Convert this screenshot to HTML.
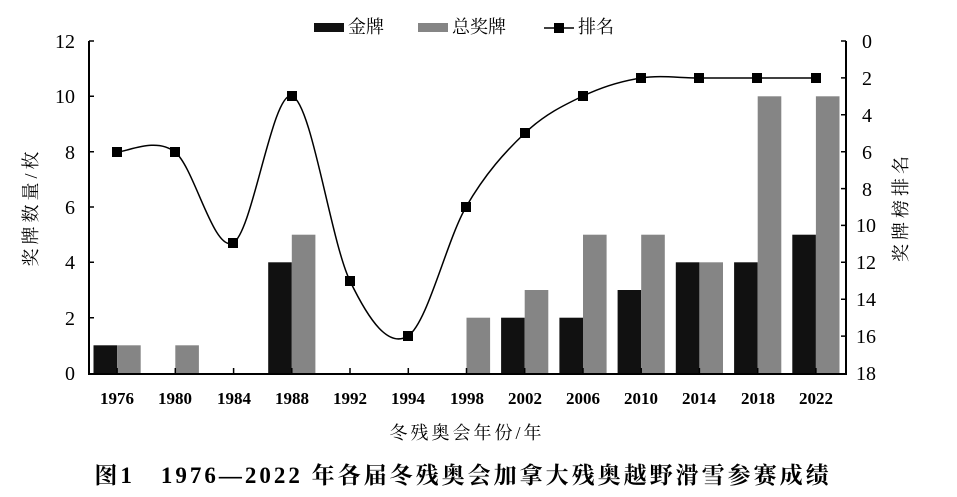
<!DOCTYPE html>
<html><head><meta charset="utf-8"><style>
body{margin:0;background:#fff;width:957px;height:497px;overflow:hidden}
svg{display:block}
.n{font-family:"Liberation Serif",serif;font-size:20px}
.b{font-family:"Liberation Serif",serif;font-size:17px;font-weight:bold}
.c{font-family:"Liberation Serif","Noto Serif CJK SC",serif;font-size:18px}
</style></head><body>
<svg width="957" height="497" xmlns="http://www.w3.org/2000/svg">
<g fill="#111">
<rect x="93.5" y="345.3" width="23.6" height="27.7"/>
<rect x="268.2" y="262.3" width="23.6" height="110.7"/>
<rect x="501.1" y="317.7" width="23.6" height="55.3"/>
<rect x="559.4" y="317.7" width="23.6" height="55.3"/>
<rect x="617.6" y="290" width="23.6" height="83"/>
<rect x="675.8" y="262.3" width="23.6" height="110.7"/>
<rect x="734.1" y="262.3" width="23.6" height="110.7"/>
<rect x="792.3" y="234.7" width="23.6" height="138.3"/>
</g>
<g fill="#858585">
<rect x="117.1" y="345.3" width="23.6" height="27.7"/>
<rect x="175.3" y="345.3" width="23.6" height="27.7"/>
<rect x="291.8" y="234.7" width="23.6" height="138.3"/>
<rect x="466.5" y="317.7" width="23.6" height="55.3"/>
<rect x="524.7" y="290" width="23.6" height="83"/>
<rect x="583" y="234.7" width="23.6" height="138.3"/>
<rect x="641.2" y="234.7" width="23.6" height="138.3"/>
<rect x="699.4" y="262.3" width="23.6" height="110.7"/>
<rect x="757.7" y="96.3" width="23.6" height="276.7"/>
<rect x="815.9" y="96.3" width="23.6" height="276.7"/>
</g>
<g stroke="#000" stroke-width="2" fill="none">
<path d="M89 41V374H846V41"/>
</g>
<g stroke="#000" stroke-width="1.5">
<path d="M89 41h5M89 96.3h5M89 151.7h5M89 207h5M89 262.3h5M89 317.7h5"/>
<path d="M846 41h-5M846 77.9h-5M846 114.8h-5M846 151.7h-5M846 188.6h-5M846 225.4h-5M846 262.3h-5M846 299.2h-5M846 336.1h-5"/>
<path d="M117.1 373v-5M175.3 373v-5M233.6 373v-5M291.8 373v-5M350 373v-5M408.3 373v-5M466.5 373v-5M524.7 373v-5M583 373v-5M641.2 373v-5M699.4 373v-5M757.7 373v-5M815.9 373v-5"/>
</g>
<path fill="none" stroke="#000" stroke-width="1.5" d="M117 152C127 152 155.7 136.8 175 152C194.3 167.2 213.5 252.3 233 243C252.5 233.7 272.5 89.7 292 96C311.5 102.3 330.7 241 350 281C369.3 321 388.7 348.3 408 336C427.3 323.7 446.5 240.8 466 207C485.5 173.2 505.5 151.5 525 133C544.5 114.5 563.7 105.2 583 96C602.3 86.8 621.7 81 641 78C660.3 75 679.7 78 699 78C718.3 78 737.7 78 757 78C776.7 78 806.3 78 816 78"/>
<g fill="#000">
<rect x="112" y="147" width="10" height="10"/><rect x="170" y="147" width="10" height="10"/>
<rect x="228" y="238" width="10" height="10"/><rect x="287" y="91" width="10" height="10"/>
<rect x="345" y="276" width="10" height="10"/><rect x="403" y="331" width="10" height="10"/>
<rect x="461" y="202" width="10" height="10"/><rect x="520" y="128" width="10" height="10"/>
<rect x="578" y="91" width="10" height="10"/><rect x="636" y="73" width="10" height="10"/>
<rect x="694" y="73" width="10" height="10"/><rect x="752" y="73" width="10" height="10"/>
<rect x="811" y="73" width="10" height="10"/>
</g>
<g class="n" text-anchor="end">
<text x="75" y="48">12</text><text x="75" y="103">10</text><text x="75" y="159">8</text>
<text x="75" y="214">6</text><text x="75" y="269">4</text><text x="75" y="325">2</text><text x="75" y="380">0</text>
</g>
<g class="n" text-anchor="start">
<text x="862" y="48">0</text><text x="862" y="85">2</text><text x="862" y="122">4</text>
<text x="862" y="159">6</text><text x="862" y="196">8</text><text x="856" y="232">10</text>
<text x="856" y="269">12</text><text x="856" y="306">14</text><text x="856" y="343">16</text><text x="856" y="380">18</text>
</g>
<g class="b" text-anchor="middle">
<text x="117" y="404">1976</text><text x="175" y="404">1980</text><text x="234" y="404">1984</text>
<text x="292" y="404">1988</text><text x="350" y="404">1992</text><text x="408" y="404">1994</text>
<text x="467" y="404">1998</text><text x="525" y="404">2002</text><text x="583" y="404">2006</text>
<text x="641" y="404">2010</text><text x="699" y="404">2014</text><text x="758" y="404">2018</text>
<text x="816" y="404">2022</text>
</g>
<text class="c" x="33" y="207" text-anchor="middle" transform="rotate(-90 33 207)" dominant-baseline="middle" letter-spacing="4">奖牌数量/枚</text>
<text class="c" x="903" y="207" text-anchor="middle" transform="rotate(-90 903 207)" dominant-baseline="middle" letter-spacing="4">奖牌榜排名</text>
<text class="c" x="467" y="439" text-anchor="middle" letter-spacing="3">冬残奥会年份/年</text>
<text x="463" y="483" text-anchor="middle" letter-spacing="3" style="font-family:'Liberation Serif','Noto Serif CJK SC',serif;font-size:23px;font-weight:bold">图1　1976—2022 年各届冬残奥会加拿大残奥越野滑雪参赛成绩</text>
<rect x="314" y="23" width="30" height="9" fill="#111"/>
<text class="c" x="348" y="33">金牌</text>
<rect x="418" y="23" width="30" height="9" fill="#858585"/>
<text class="c" x="452" y="33">总奖牌</text>
<path d="M544 28h30" stroke="#000" stroke-width="1.5"/>
<rect x="554" y="23" width="10" height="10" fill="#000"/>
<text class="c" x="578" y="33">排名</text>
</svg>
</body></html>
